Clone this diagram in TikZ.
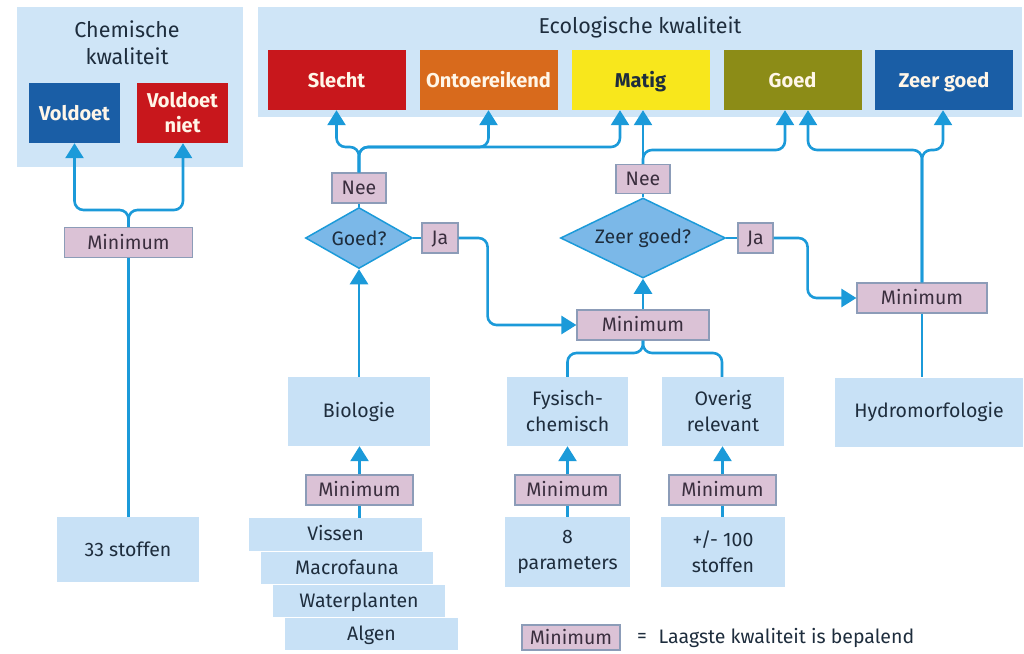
\documentclass[tikz,border=0pt]{standalone}
\usepackage{fontspec}
\setmainfont{Fira Sans}
\usetikzlibrary{shapes.geometric,arrows.meta}
\definecolor{panelblue}{HTML}{CFE5F7}
\definecolor{boxblue}{HTML}{C8E1F6}
\definecolor{minfill}{HTML}{DBC2D6}
\definecolor{mindraw}{HTML}{8C9CB8}
\definecolor{mintext}{HTML}{3A2E3E}
\definecolor{diafill}{HTML}{7BB8E8}
\definecolor{linec}{HTML}{1B9AD9}
\definecolor{txt}{HTML}{1E2D3D}
\definecolor{cslecht}{HTML}{C8171C}
\definecolor{conto}{HTML}{D86A1C}
\definecolor{cmatig}{HTML}{F8E71C}
\definecolor{cgoed}{HTML}{8C8C17}
\definecolor{czeer}{HTML}{1A5EA6}
\definecolor{qtext}{HTML}{FFF6E8}
\begin{document}
\begin{tikzpicture}[x=1pt,y=-1pt,
  font=\fontsize{19.5}{26}\selectfont,
  panel/.style={fill=panelblue, draw=none, inner sep=0pt},
  lbox/.style={fill=boxblue, draw=none, align=center, inner sep=0pt, text=txt},
  qbox/.style={draw=none, inner sep=0pt, minimum width=138pt, minimum height=60pt, text=qtext, font=\fontsize{20}{25}\selectfont\bfseries, align=center},
  qone/.style={qbox, text height=16pt, text depth=2pt},
  minbox/.style={fill=minfill, draw=mindraw, line width=1.2pt, inner sep=0pt, minimum height=30pt, text=mintext, text height=15.5pt, text depth=2pt},
  dia/.style={diamond, aspect=2, fill=diafill, draw=linec, line width=1.5pt, inner sep=0pt, text=txt},
  conn/.style={draw=linec, line width=2.6pt, rounded corners=9pt},
  arr/.style={conn, -{Triangle[width=18pt,length=15pt]}}
]
\useasboundingbox (0,0) rectangle (1024,653);

% panels
\node[panel, minimum width=226pt, minimum height=160pt] (chempanel) at (130,87) {};
\node[panel, minimum width=764pt, minimum height=110pt] (ecopanel) at (640,62) {};
\node[text=txt, align=center, font=\fontsize{21.5}{27}\selectfont] (chemtitle) at (127,43) {Chemische\\kwaliteit};
\node[text=txt, font=\fontsize{21.5}{24}\selectfont] (ecotitle) at (640,27) {Ecologische kwaliteit};

% chemical quality boxes
\node[qone, fill=czeer, minimum width=91pt] (voldoet) at (74.5,113) {Voldoet};
\node[qbox, fill=cslecht, minimum width=91pt] (vniet) at (182.5,113) {Voldoet\\niet};

% ecological quality boxes
\node[qone, fill=cslecht] (slecht) at (336.5,80) {Slecht};
\node[qone, fill=conto] (onto) at (488.5,80) {Ontoereikend};
\node[qone, fill=cmatig, text=txt] (matig) at (640.5,80) {Matig};
\node[qone, fill=cgoed] (goed) at (792.5,80) {Goed};
\node[qone, fill=czeer] (zeer) at (944,80) {Zeer goed};

% left column
\node[minbox, minimum width=128pt] (minL) at (128.5,242.5) {Minimum};
\node[lbox, minimum width=142pt, minimum height=65pt] (stof33) at (128,549.5) {33 stoffen};

% decisions
\node[minbox, minimum width=54pt] (nee1) at (359,188) {Nee};
\node[dia, minimum width=107pt, minimum height=61pt] (goedq) at (359,238) {Goed?};
\node[minbox, minimum width=36pt] (ja1) at (440,238) {Ja};

\node[minbox, minimum width=54pt, minimum height=29pt] (nee2) at (643,179) {Nee};
\node[dia, minimum width=165pt, minimum height=80pt] (zeerq) at (643,238) {Zeer goed?};
\node[minbox, minimum width=35pt] (ja2) at (755.5,238) {Ja};

\node[minbox, minimum width=132pt] (minM) at (643,325) {Minimum};
\node[minbox, minimum width=130pt] (minR) at (922,298) {Minimum};

% middle boxes
\node[lbox, minimum width=142pt, minimum height=69pt] (bio) at (359,411.5) {Biologie};
\node[lbox, minimum width=121pt, minimum height=69pt] (fys) at (567.5,411.5) {Fysisch-\\chemisch};
\node[lbox, minimum width=122pt, minimum height=69pt] (ove) at (723,411.5) {Overig\\relevant};
\node[lbox, minimum width=188pt, minimum height=69pt] (hydro) at (929,412) {Hydromorfologie};

% lower minimum boxes
\node[minbox, minimum width=107pt] (minB) at (359.5,490) {Minimum};
\node[minbox, minimum width=105pt] (minF) at (567.5,490) {Minimum};
\node[minbox, minimum width=107pt] (minO) at (722.5,490) {Minimum};

% bottom boxes
\node[lbox, minimum width=173pt, minimum height=33pt, text height=15pt, text depth=3pt] (vissen) at (335.5,534.5) {Vissen};
\node[lbox, minimum width=172pt, minimum height=32pt, text height=15pt, text depth=3pt] (macro) at (347,568) {Macrofauna};
\node[lbox, minimum width=172pt, minimum height=32pt, text height=15pt, text depth=3pt] (water) at (359,601) {Waterplanten};
\node[lbox, minimum width=173pt, minimum height=32pt, text height=15pt, text depth=3pt] (algen) at (371.5,634) {Algen};
\node[lbox, minimum width=125pt, minimum height=70pt] (params) at (567.5,552) {8\\parameters};
\node[lbox, minimum width=124pt, minimum height=70pt] (stof100) at (723,552) {+/- 100\\stoffen};

% legend
\node[minbox, minimum width=98pt, minimum height=25pt] (minLeg) at (571,637.5) {Minimum};
\node[text=txt] (eq) at (642,638) {=};
\node[text=txt, anchor=west] (legtext) at (655,638) {Laagste kwaliteit is bepalend};

% junction coordinates
\coordinate (jC) at (128.5,210);
\coordinate (j1) at (359,147);
\coordinate (j2) at (643,150);
\coordinate (j3) at (922,150);
\coordinate (jM) at (643,353);

% chemical connectors
\draw[arr] (minL.north) -- (jC) -| (voldoet.south);
\draw[arr] (minL.north) -- (jC) -| ([xshift=0.5pt]vniet.south);
\draw[conn] (minL.south) -- (minL.south |- stof33.north);

% Goed? Nee branch
\draw[conn] (goedq.north) -- (nee1.south);
\draw[arr] (nee1.north) -- (j1) -| (slecht.south);
\draw[arr] (nee1.north) -- (j1) -| (onto.south);
\draw[arr] (nee1.north) -- (j1) -| ([xshift=-20.5pt]matig.south);

% Zeer goed? Nee branch
\draw[conn] (zeerq.north) -- (nee2.south);
\draw[arr] (nee2.north) -- ([xshift=2.5pt]matig.south);
\draw[arr] (nee2.north) -- (j2) -| ([xshift=-7.5pt]goed.south);

% hydro minimum branch
\draw[arr] (minR.north) -- (j3) -| ([xshift=15.5pt]goed.south);
\draw[arr] (minR.north) -- (j3) -| ([xshift=-1pt]zeer.south);
\draw[conn] (minR.south) -- (minR.south |- hydro.north);

% Ja connectors
\draw[conn] (goedq.east) -- (ja1.west);
\draw[arr] (ja1.east) -- ++(29,0) |- (minM.west);
\draw[conn] (zeerq.east) -- (ja2.west);
\draw[arr] (ja2.east) -- ++(34,0) |- (minR.west);

% middle minimum
\draw[arr] (minM.north) -- (zeerq.south);
\draw[conn] (minM.south) -- (jM) -| (fys.north);
\draw[conn] (minM.south) -- (jM) -| ([xshift=-1pt]ove.north);

% biology
\draw[arr] (bio.north) -- (goedq.south);
\draw[arr] (minB.north) -- (minB.north |- bio.south);
\draw[conn] (minB.south) -- (minB.south |- vissen.north);
\draw[arr] (minF.north) -- (minF.north |- fys.south);
\draw[conn] (minF.south) -- (minF.south |- params.north);
\draw[arr] (minO.north) -- (minO.north |- ove.south);
\draw[conn] (minO.south) -- (minO.south |- stof100.north);
\end{tikzpicture}
\end{document}
